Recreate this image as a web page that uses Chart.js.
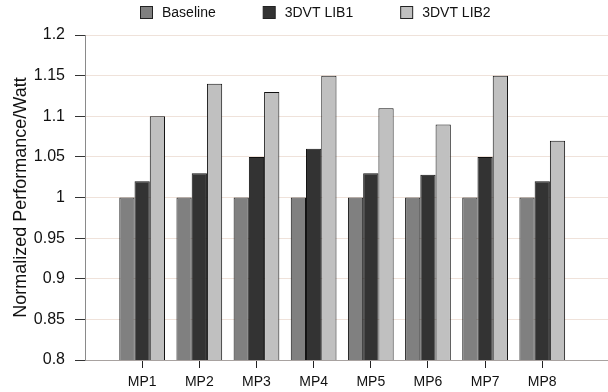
<!DOCTYPE html>
<html>
<head>
<meta charset="utf-8">
<script src="https://cdn.jsdelivr.net/npm/chart.js@4.4.1/dist/chart.umd.min.js"></script>
<style>
html,body{margin:0;padding:0;background:#fff;}
#wrap{width:608px;height:392px;position:relative;}
</style>
</head>
<body>
<div id="wrap"><canvas id="c" width="608" height="392"></canvas></div>
<script>
const categories = ['MP1','MP2','MP3','MP4','MP5','MP6','MP7','MP8'];
const seriesNames = ['Baseline','3DVT LIB1','3DVT LIB2'];
const baseline = [1.00, 1.00, 1.00, 1.00, 1.00, 1.00, 1.00, 1.00];
const lib1 = [1.02, 1.03, 1.05, 1.06, 1.03, 1.028, 1.05, 1.02];
const lib2 = [1.10, 1.14, 1.13, 1.15, 1.11, 1.09, 1.15, 1.07];
const yTickLabels = ['0.8','0.85','0.9','0.95','1','1.05','1.1','1.15','1.2'];
const yAxisTitle = 'Normalized Performance/Watt';

const FONT = "'Liberation Sans', Arial, sans-serif";
const colors = ['#808080', '#333333', '#c0c0c0'];
const series = [baseline, lib1, lib2];

const toPoints = arr => arr.map((v, i) => ({x: i + 1, y: v}));

const legendPlugin = {
  id: 'topLegend',
  afterDraw(chart) {
    const ctx = chart.ctx;
    ctx.save();
    ctx.font = '14px ' + FONT;
    ctx.textBaseline = 'middle';
    ctx.textAlign = 'left';
    const box = 12, gapBT = 10, gapItem = 47;
    const items = chart.data.datasets.map(d => ({text: d.label, color: d.backgroundColor, w: box + gapBT + ctx.measureText(d.label).width}));
    const total = items.reduce((s, it) => s + it.w, 0) + gapItem * (items.length - 1);
    let x = Math.round(chart.width / 2 + 11 - total / 2);
    const yc = 12;
    items.forEach(it => {
      ctx.fillStyle = it.color;
      ctx.fillRect(x + 0.5, yc - box / 2 + 0.5, box, box);
      ctx.strokeStyle = '#222';
      ctx.lineWidth = 1;
      ctx.strokeRect(x + 0.5, yc - box / 2 + 0.5, box, box);
      ctx.fillStyle = '#111';
      ctx.fillText(it.text, x + box + gapBT, yc + 1);
      x += it.w + gapItem;
    });
    ctx.restore();
  }
};

new Chart(document.getElementById('c'), {
  type: 'bar',
  data: {
    datasets: series.map((s, k) => ({
      label: seriesNames[k],
      data: toPoints(s),
      backgroundColor: colors[k],
      borderColor: '#111',
      borderWidth: 1,
      borderSkipped: 'bottom',
      barPercentage: 1.0,
      categoryPercentage: 0.8
    }))
  },
  options: {
    responsive: false,
    animation: false,
    devicePixelRatio: 1,
    layout: {padding: {top: 35, right: 0, bottom: 0, left: 0}},
    plugins: {legend: {display: false}, tooltip: {enabled: false}},
    scales: {
      x: {
        type: 'linear',
        min: 0,
        max: 9.15,
        offset: false,
        afterFit: s => { s.height = 32; },
        grid: {
          offset: false,
          drawOnChartArea: false,
          drawTicks: true,
          tickLength: 8,
          tickColor: ctx => (ctx.tick && categories[Math.round(ctx.tick.value) - 1] && Math.abs(ctx.tick.value - Math.round(ctx.tick.value)) < 1e-6) ? '#222' : 'rgba(0,0,0,0)'
        },
        border: {color: '#a8a2a0', width: 1},
        ticks: {
          stepSize: 1,
          autoSkip: false,
          includeBounds: false,
          maxRotation: 0,
          padding: 6,
          color: '#111',
          font: {family: FONT, size: 14},
          callback: v => categories[v - 1] || ''
        }
      },
      y: {
        min: 0.8,
        max: 1.2,
        afterFit: s => { s.width = 85; },
        grid: {
          color: '#efe2da',
          tickColor: '#333',
          tickLength: 10,
          drawTicks: true
        },
        border: {color: '#8a8a8a', width: 1},
        ticks: {
          stepSize: 0.05,
          padding: 10,
          color: '#111',
          font: {family: FONT, size: 16},
          callback: (v, i) => yTickLabels[i]
        },
        title: {
          display: true,
          text: yAxisTitle,
          color: '#111',
          font: {family: FONT, size: 18},
          padding: {top: 10, bottom: 0}
        }
      }
    }
  },
  plugins: [legendPlugin]
});
</script>
</body>
</html>
